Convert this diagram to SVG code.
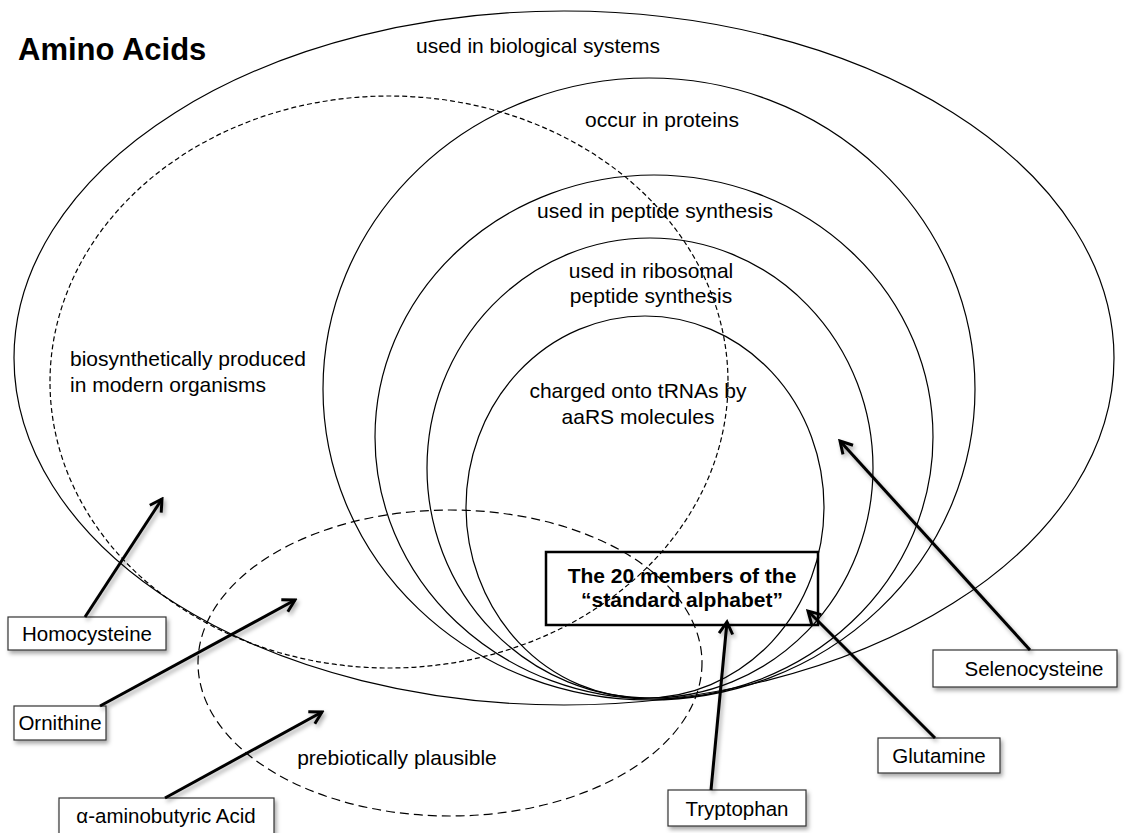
<svg xmlns="http://www.w3.org/2000/svg" width="1130" height="833" viewBox="0 0 1130 833">
<defs>
<style>
.t{font-family:"Liberation Sans",Arial,sans-serif;font-size:21px;fill:#000}
.c{text-anchor:middle}
.b{font-weight:bold}
.e{fill:none;stroke:#000;stroke-width:1.2}
.d1{stroke-dasharray:5 3}
.d2{stroke-dasharray:9 5}
.lbl rect{fill:#fff;stroke:#333;stroke-width:1.2}
.lbl text{font-size:20.5px}
.arr{stroke:#000;stroke-width:3;fill:none;marker-end:url(#ah)}
</style>
<filter id="sh" x="-20%" y="-30%" width="150%" height="180%">
<feDropShadow dx="2" dy="3" stdDeviation="2" flood-color="#000" flood-opacity="0.35"/>
</filter>
<marker id="ah" viewBox="0 0 20 20" refX="17" refY="10" markerWidth="17" markerHeight="17" markerUnits="userSpaceOnUse" orient="auto">
<path d="M3,2 L17,10 L3,18" fill="none" stroke="#000" stroke-width="3.5"/>
</marker>
</defs>
<rect width="1130" height="833" fill="#fff"/>

<g id="sets">
<ellipse id="biological" class="e" cx="564" cy="358" rx="550" ry="347"/>
<ellipse id="proteins" class="e" cx="649" cy="389" rx="326" ry="311"/>
<ellipse id="peptide" class="e" cx="654" cy="437" rx="279" ry="262"/>
<ellipse id="ribosomal" class="e" cx="650" cy="468" rx="223" ry="230"/>
<ellipse id="trna" class="e" cx="645" cy="507" rx="179" ry="191"/>
<ellipse id="biosynthetic" class="e d1" cx="389" cy="382" rx="339" ry="286"/>
<ellipse id="prebiotic" class="e d2" cx="450" cy="663" rx="252" ry="153"/>
</g>

<g id="set-labels">
<text class="t b" x="18" y="60" style="font-size:31px">Amino Acids</text>
<text class="t c" x="538" y="53">used in biological systems</text>
<text class="t c" x="662" y="127">occur in proteins</text>
<text class="t c" x="655" y="218">used in peptide synthesis</text>
<text class="t c" x="651" y="278">used in ribosomal</text>
<text class="t c" x="651" y="303">peptide synthesis</text>
<text class="t" x="70" y="366">biosynthetically produced</text>
<text class="t" x="70" y="392">in modern organisms</text>
<text class="t c" x="638" y="398">charged onto tRNAs by</text>
<text class="t c" x="638" y="424">aaRS molecules</text>
<text class="t c" x="397" y="765">prebiotically plausible</text>
</g>

<g id="standard">
<rect x="546" y="552" width="272" height="73" fill="none" stroke="#000" stroke-width="2.5"/>
<text class="t c b" x="682" y="583">The 20 members of the</text>
<text class="t c b" x="682" y="607">“standard alphabet”</text>
</g>

<g id="homocysteine" class="lbl"><rect x="8" y="617" width="158" height="33" filter="url(#sh)"/><text class="t c" x="87" y="641">Homocysteine</text></g>
<g id="ornithine" class="lbl"><rect x="14" y="706" width="92" height="34" filter="url(#sh)"/><text class="t c" x="60" y="730">Ornithine</text></g>
<g id="aminobutyric" class="lbl"><rect x="59" y="798" width="215" height="40" filter="url(#sh)"/><text class="t c" x="166" y="823">α-aminobutyric Acid</text></g>
<g id="tryptophan" class="lbl"><rect x="668" y="790" width="138" height="36" filter="url(#sh)"/><text class="t c" x="737" y="816">Tryptophan</text></g>
<g id="glutamine" class="lbl"><rect x="878" y="738" width="122" height="35" filter="url(#sh)"/><text class="t c" x="939" y="763">Glutamine</text></g>
<g id="selenocysteine" class="lbl"><rect x="933" y="650" width="184" height="37" filter="url(#sh)"/><text class="t c" x="1034" y="676">Selenocysteine</text></g>

<g id="connectors" filter="url(#sh)">
<line class="arr" x1="85" y1="617" x2="162" y2="499"/>
<line class="arr" x1="100" y1="706" x2="295" y2="600"/>
<line class="arr" x1="165" y1="798" x2="322" y2="712"/>
<line class="arr" x1="711" y1="790" x2="727" y2="622"/>
<line class="arr" x1="935" y1="738" x2="808" y2="611"/>
<line class="arr" x1="1030" y1="650" x2="840" y2="441"/>
</g>
</svg>
